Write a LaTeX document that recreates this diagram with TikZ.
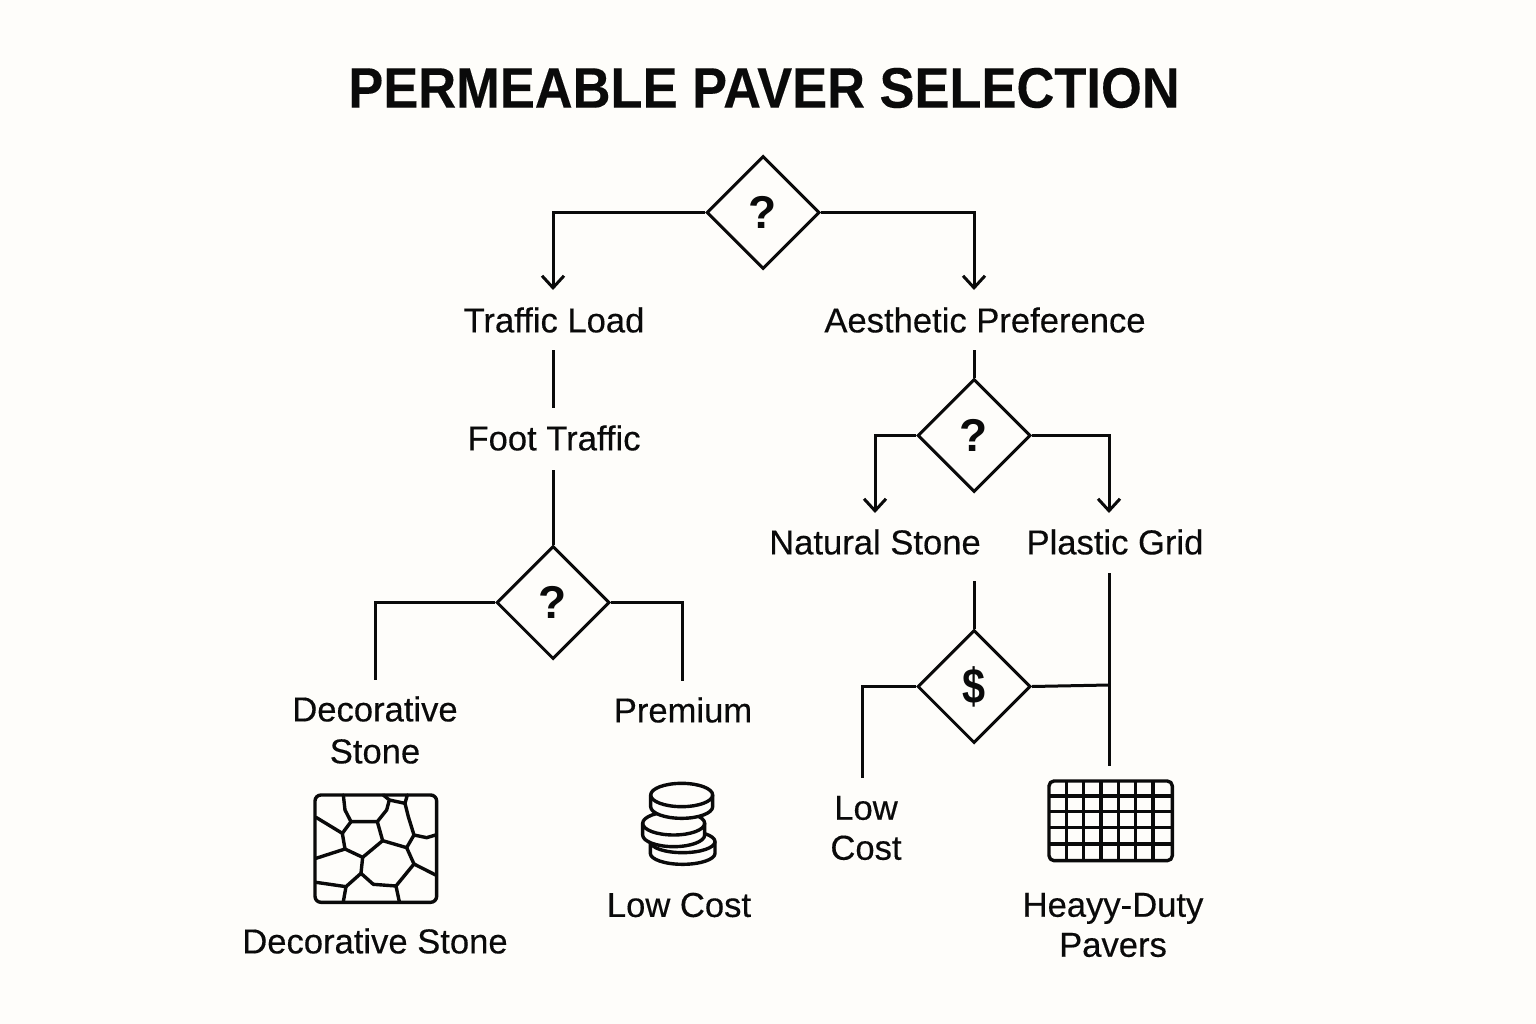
\documentclass[tikz,border=0pt]{standalone}
\usepackage{fontspec}
\setmainfont{Liberation Sans}
\newfontfamily\lblfont[FakeBold=0.35]{Liberation Sans}
\newfontfamily\markfont{Liberation Sans Bold}
\newfontfamily\ttlfont[FakeBold=0.2]{Liberation Sans Bold}
\usetikzlibrary{shapes.geometric,arrows.meta}
\definecolor{paper}{HTML}{FEFDFA}
\definecolor{ink}{HTML}{0A0A0A}
\tikzset{
  lbl/.style={text=ink,font=\lblfont\fontsize{34.6}{40}\selectfont,align=center,inner sep=0pt},
  dia/.style={diamond,draw=ink,line width=3pt,minimum width=113pt,minimum height=113pt,inner sep=0pt,aspect=1,fill=paper,text=ink,font=\markfont\fontsize{46}{50}\selectfont},
  conn/.style={draw=ink,line width=3pt,line join=miter},
  arr/.style={conn,-{Straight Barb[length=12pt,width=22pt,line width=3pt]}},
  icon/.style={draw=ink,line width=3.4pt,line join=round,line cap=round},
}
\newcommand{\coin}[4]{% cx cy rx ry
  \path[icon,fill=paper] (#1-#3,#2) -- (#1-#3,#2+35) arc[start angle=180,end angle=0,x radius=#3,y radius=#4] -- (#1+#3,#2) arc[start angle=0,end angle=-180,x radius=#3,y radius=#4] -- cycle;
  \path[icon] (#1-#3,#2) arc[start angle=180,end angle=0,x radius=#3,y radius=#4];
}
\begin{document}
\begin{tikzpicture}[x=1pt,y=-1pt]
\path[fill=paper] (0,0) rectangle (1536,1024);
\useasboundingbox (0,0) rectangle (1536,1024);
\node[text=ink,inner sep=0pt,font=\ttlfont\fontsize{57}{60}\selectfont,xscale=0.92,transform shape] (title) at (764,88) {PERMEABLE PAVER SELECTION};
\node[dia] (d1) at (763,212.5) {?};
\node[dia] (d2) at (974,435.5) {?};
\node[dia] (d3) at (553,602.5) {?};
\node[dia] (d4) at (974,686.5) {\scalebox{0.9}[1.08]{\$}};
\node[lbl] (traffic) at (554,320) {Traffic Load};
\node[lbl] (aes) at (985,320) {Aesthetic Preference};
\node[lbl] (foot) at (554,438) {Foot Traffic};
\node[lbl] (natural) at (875,542) {Natural Stone};
\node[lbl] (plastic) at (1115,542) {Plastic Grid};
\node[lbl,font=\lblfont\fontsize{34.6}{42}\selectfont] (decor) at (375,730) {Decorative\\Stone};
\node[lbl] (premium) at (683,710) {Premium};
\node[lbl] (lowa) at (866,828) {Low\\Cost};
\node[lbl] (lowb) at (679,905) {Low Cost};
\node[lbl] (decorb) at (375,941) {Decorative Stone};
\node[lbl] (heavy) at (1113,925) {Heayy-Duty\\Pavers};
\coordinate (a1) at (553,290);
\coordinate (a2) at (974,290);
\coordinate (a3) at (875,513);
\coordinate (a4) at (1109,513);
\coordinate (t1s) at (553,350);
\coordinate (t1e) at (553,408);
\coordinate (t2s) at (553,470);
\coordinate (t3s) at (974,350);
\coordinate (e1) at (375,680);
\coordinate (e2) at (682,681);
\coordinate (n1) at (974,581);
\coordinate (p1) at (1109,573);
\coordinate (p2) at (1109,766);
\coordinate (p3) at (1109,685);
\coordinate (e3) at (862,778);
\draw[arr] (d1.west) -| (a1);
\draw[arr] (d1.east) -| (a2);
\draw[conn] (t1s) -- (t1e);
\draw[conn] (t2s) -- (d3.north);
\draw[conn] (t3s) -- (d2.north);
\draw[arr] (d2.west) -| (a3);
\draw[arr] (d2.east) -| (a4);
\draw[conn] (d3.west) -| (e1);
\draw[conn] (d3.east) -| (e2);
\draw[conn] (n1) -- (d4.north);
\draw[conn] (p1) -- (p2);
\draw[conn] (d4.west) -| (e3);
\draw[conn] (d4.east) -- (p3);
% stone icon
\begin{scope}[shift={(290,780)},x=0.3333pt,y=-0.3333pt]
\draw[icon,rounded corners=6pt] (75,45) rectangle (440,367);
\draw[icon] (160,45)--(165,90)--(183,125)--(262,125)--(290,90)--(298,60)--(280,45);
\draw[icon] (298,60)--(345,70)--(352,45);
\draw[icon] (345,70)--(355,110)--(372,165)--(410,173)--(437,165);
\draw[icon] (372,165)--(350,203)--(278,182)--(262,125);
\draw[icon] (183,125)--(157,160)--(78,112);
\draw[icon] (157,160)--(165,207)--(78,235);
\draw[icon] (165,207)--(218,232)--(278,182);
\draw[icon] (218,232)--(213,280)--(168,320)--(78,307);
\draw[icon] (168,320)--(160,365);
\draw[icon] (213,280)--(250,313)--(318,318)--(328,365);
\draw[icon] (318,318)--(372,252)--(437,285);
\draw[icon] (372,252)--(350,203);
\end{scope}
% coins
\begin{scope}[shift={(620,770)},x=0.3333pt,y=-0.3333pt]
\coin{188}{215}{97}{33}
\coin{161}{160}{93}{35}
\coin{185}{75}{93}{35}
\end{scope}
% grid
\begin{scope}[shift={(1030,760)},x=0.3333pt,y=-0.3333pt]
\draw[icon,rounded corners=5pt] (57,63) rectangle (427,302);
\foreach \gx in {110,161,213,265,317,369} \draw[icon,line cap=butt] (\gx,63)--(\gx,302);
\foreach \gy in {108,155,203,252} \draw[icon,line cap=butt] (57,\gy)--(427,\gy);
\end{scope}
\end{tikzpicture}
\end{document}
